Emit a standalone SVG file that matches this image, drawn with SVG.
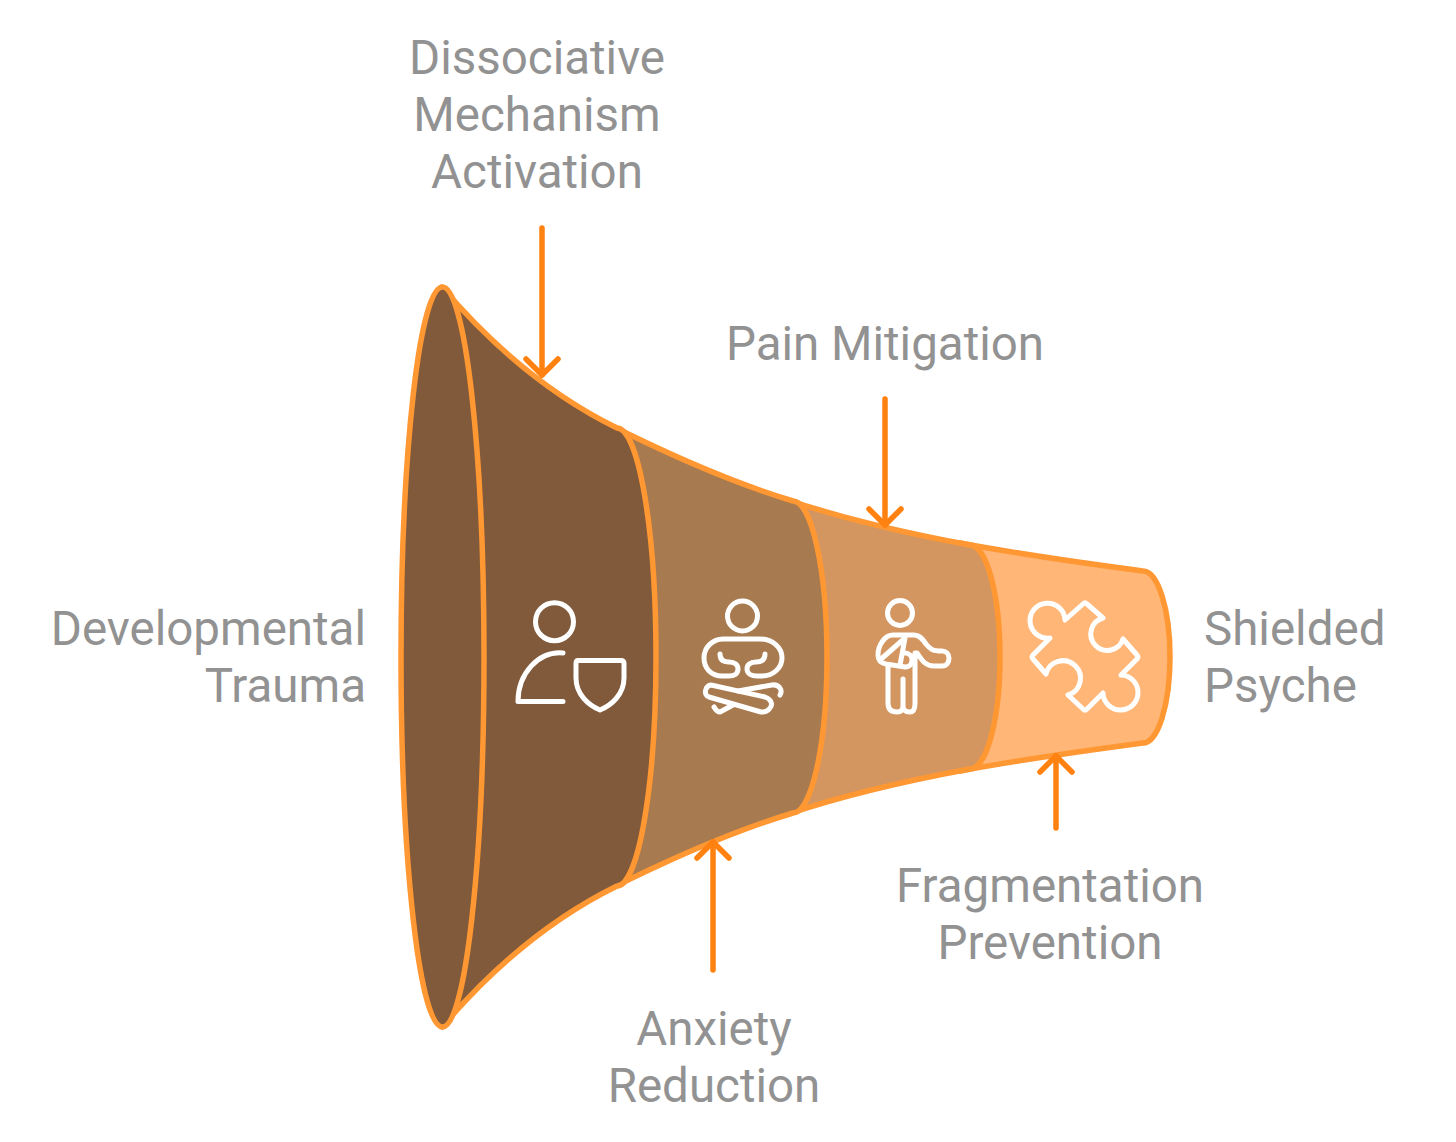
<svg xmlns="http://www.w3.org/2000/svg" width="1456" height="1142" viewBox="0 0 1456 1142">
<style>
.seg{stroke:#FF9733;stroke-width:5.500;stroke-linejoin:round}
.ico{fill:none;stroke:#fff;stroke-width:5;stroke-linecap:round;stroke-linejoin:round}
.lbl{font-family:Roboto,"Liberation Sans",sans-serif;font-size:47.500px;fill:#929292}
.arr{fill:none;stroke:#FF8210;stroke-width:5.500;stroke-linecap:round}
</style>
<defs>
<marker id="head" markerUnits="userSpaceOnUse" markerWidth="40" markerHeight="40" refX="20" refY="20" orient="auto" overflow="visible">
<path d="M4,4 L20,20 L4,36" fill="none" stroke="#FF8210" stroke-width="5.500" stroke-linecap="round" stroke-linejoin="round"/>
</marker>
</defs>
<rect width="1456" height="1142" fill="#fff"/>
<g id="stage4">
<path class="seg" fill="#FFB677" d="M960,543 C1030,556 1090,564 1143,571 A27,86 0 0 1 1143,743 C1090,750 1030,758 960,771 Z"/>
<path class="ico" d="M1065,620 A17.500,17.500 0 1 0 1050,638 L1033,655 Q1031,657 1033,659 L1046,674 A17.500,17.500 0 1 1 1068,695 L1083,709 Q1085,711 1087,709 L1103,693 A17.500,17.500 0 1 0 1121,675 L1137,659 Q1139,657 1137,655 L1123,639 A16.500,16.500 0 1 1 1103,618 L1087,604 Q1085,602 1083,604 Z"/>
</g>
<g id="stage3">
<path class="seg" fill="#D39661" d="M785,499 C850,521 910,534 970,545 A30,112 0 0 1 970,769 C910,780 850,793 785,815 Z"/>
<g class="ico">
<circle cx="900" cy="613" r="12.500"/>
<path d="M888,666 V703 Q888,712 897,712 Q903,712 903,706 V679 M903,706 Q903,712 910,712 Q915,712 915,703 V653 L917,653 C922,660 925,666 934,666 H942 C947,666 949,662 949,658 C949,654 946,651 942,651 C933,651 931,650 926,644 C922,638 919,635 914,635 H893 C885,635 878,645 878,655 C878,660 881,663 886,664 L905,667 C910,667 912,663 912,660 C912,656 909,653 905,653"/>
<path d="M880,660 L905,638 L900,665"/>
</g>
</g>
<g id="stage2">
<path class="seg" fill="#A87A4F" d="M610,425 C680,460 740,485 793,501 A34,156 0 0 1 793,813 C740,829 680,854 610,889 Z"/>
<g class="ico">
<circle cx="742.500" cy="616" r="15"/>
<path d="M720,654 C720,660 724,662 729,662 C735,662 738,665 738,669 C738,674 734,676 729,676 H722 C711,676 704,668 704,658 C704,647 713,639 723,639 H760 C772,639 782,647 782,658 C782,668 773,676 762,676 H757 C752,676 747,674 747,669 C747,665 750,662 756,662 C761,662 765,660 765,654"/>
<path d="M711,685 C705,686 703,695 709,697 L761,712 C768,713 773,706 771,702 C770,699 768,698 765,697 Z"/>
<path d="M780,695 C783,690 779,684 772,685 L738,691 M733,705 L720,712 C717,712 716,710 714,707"/>
</g>
</g>
<g id="stage1">
<path class="seg" fill="#805A3A" d="M442,287 C500,355 560,400 617,428 A39,229 0 0 1 617,886 C560,914 500,959 442,1027 Z"/>
<g class="ico">
<circle cx="554.500" cy="621.700" r="19"/>
<path d="M563,653 C538,651 518,674 518,701.500 H563"/>
<path d="M578,660.500 H621 Q624,660.500 624,663.500 V678 C624,694 612,705 600,710 C588,705 576,694 576,678 V663.500 Q576,660.500 578,660.500 Z"/>
</g>
</g>
<g id="stage0">
<ellipse class="seg" fill="#805A3A" cx="442.500" cy="657" rx="41.500" ry="370"/>
</g>
<g id="connectors">
<path class="arr" marker-end="url(#head)" d="M542,228 V375"/>
<path class="arr" marker-end="url(#head)" d="M885,399 V525"/>
<path class="arr" marker-end="url(#head)" d="M713,970 V842"/>
<path class="arr" marker-end="url(#head)" d="M1056,828 V756"/>
</g>
<g id="label-dissociative" class="lbl" text-anchor="middle">
<text x="537" y="74">Dissociative</text>
<text x="537" y="131">Mechanism</text>
<text x="537" y="188">Activation</text>
</g>
<g id="label-pain" class="lbl" text-anchor="middle"><text x="885" y="360">Pain Mitigation</text></g>
<g id="label-developmental" class="lbl" text-anchor="end">
<text x="366" y="645">Developmental</text>
<text x="366" y="702">Trauma</text>
</g>
<g id="label-shielded" class="lbl">
<text x="1204" y="645">Shielded</text>
<text x="1204" y="702">Psyche</text>
</g>
<g id="label-fragmentation" class="lbl" text-anchor="middle">
<text x="1050" y="902">Fragmentation</text>
<text x="1050" y="959">Prevention</text>
</g>
<g id="label-anxiety" class="lbl" text-anchor="middle">
<text x="714" y="1045">Anxiety</text>
<text x="714" y="1102">Reduction</text>
</g>
</svg>
